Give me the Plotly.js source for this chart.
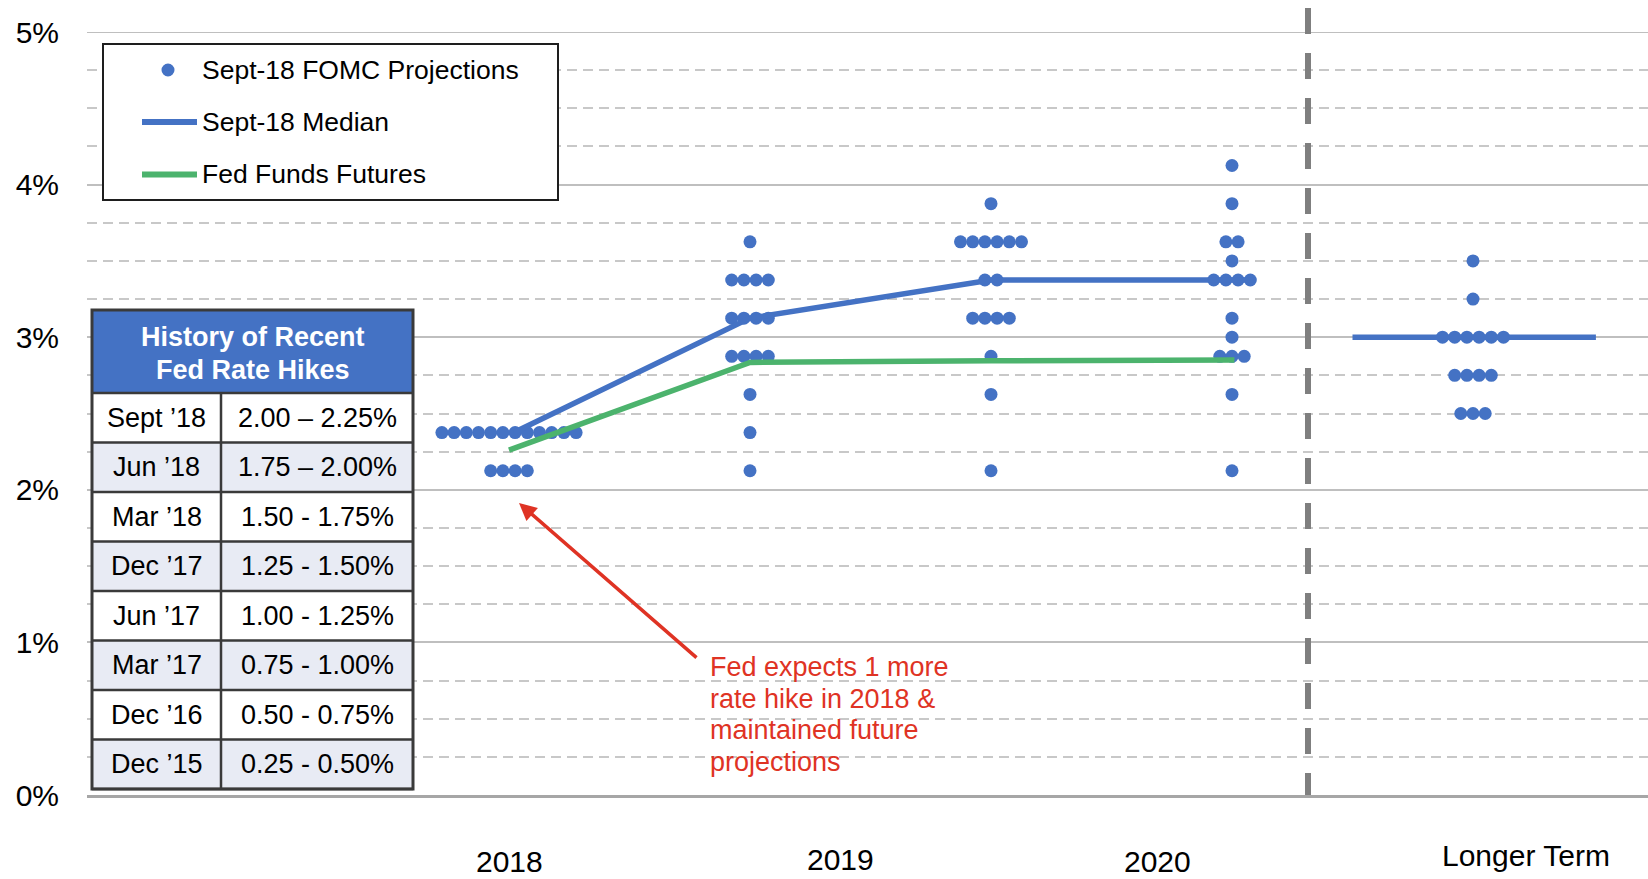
<!DOCTYPE html>
<html><head><meta charset="utf-8">
<script src="https://cdn.plot.ly/plotly-3.0.1.min.js"></script>
<style>html,body{margin:0;padding:0;background:#fff;} #chart{width:1648px;height:879px;}</style>
</head><body><div id="chart"></div>
<script>
// ---------- Data ----------
const projectionYears = ['2018', '2019', '2020', '2021', 'Longer Term'];
const dotLevels2018 = [2.375, 2.125];
const dotCounts2018 = [12, 4];
const dotLevels2019 = [3.625, 3.375, 3.125, 2.875, 2.625, 2.375, 2.125];
const dotCounts2019 = [1, 4, 4, 4, 1, 1, 1];
const dotLevels2020 = [3.875, 3.625, 3.375, 3.125, 2.875, 2.625, 2.125];
const dotCounts2020 = [1, 6, 2, 4, 1, 1, 1];
const dotLevels2021 = [4.125, 3.875, 3.625, 3.5, 3.375, 3.125, 3.0, 2.875, 2.625, 2.125];
const dotCounts2021 = [1, 1, 2, 1, 4, 1, 1, 3, 1, 1];
const dotLevelsLonger = [3.5, 3.25, 3.0, 2.75, 2.5];
const dotCountsLonger = [1, 1, 6, 4, 3];
const medianRates = [2.375, 3.125, 3.375, 3.375];
const medianLonger = [3.0, 3.0];
const futuresRates = [2.26, 2.835, 2.845, 2.85];
const xTickLabels = ['2018', '2019', '2020', 'Longer Term'];
const yTickValues = [0, 1, 2, 3, 4, 5];
const yTickLabels = ['0%', '1%', '2%', '3%', '4%', '5%'];
const legendLabels = ['Sept-18 FOMC Projections', 'Sept-18 Median', 'Fed Funds Futures'];
const tableTitle = ['History of Recent', 'Fed Rate Hikes'];
const hikeDates = ['Sept ’18', 'Jun ’18', 'Mar ’18', 'Dec ’17', 'Jun ’17', 'Mar ’17', 'Dec ’16', 'Dec ’15'];
const hikeRanges = ['2.00 – 2.25%', '1.75 – 2.00%', '1.50 - 1.75%', '1.25 - 1.50%', '1.00 - 1.25%', '0.75 - 1.00%', '0.50 - 0.75%', '0.25 - 0.50%'];
const noteLines = ['Fed expects 1 more', 'rate hike in 2018 &', 'maintained future', 'projections'];

// ---------- Geometry / style ----------
const W = 1648, H = 879;
const L = 87, T = 32, B = 795;          // plot area in pixels
const X0PX = 509, UNIT = 241;           // pixel of first cluster, pixels per cluster
const FONT = 'Liberation Sans, Arial, Helvetica, sans-serif';
const BLUE = '#4472C4', GREEN = '#4CB36D', RED = '#DF3324';
const PX = X => (X - L) / (W - L);
const PY = Y => (B - Y) / (B - T);
const DX = X => (X - X0PX) / UNIT;       // pixel -> x data
const DY = Y => (B - Y) / ((B - T) / 5); // pixel -> y data
const dotStep = 12.2 / UNIT;

const dotSets = [
  [dotLevels2018, dotCounts2018],
  [dotLevels2019, dotCounts2019],
  [dotLevels2020, dotCounts2020],
  [dotLevels2021, dotCounts2021],
  [dotLevelsLonger, dotCountsLonger]
];
const dotX = [], dotY = [];
dotSets.forEach(([lv, ct], k) => {
  lv.forEach((v, j) => {
    const n = ct[j];
    for (let i = 0; i < n; i++) {
      dotX.push(k + (i - (n - 1) / 2) * dotStep);
      dotY.push(v);
    }
  });
});

const medianX = [0.02, 1, 2, 3.09];
const futuresX = [0, 1, 2, 3.01];
const longerX = [3.5, 4.51];

const traces = [
  {type: 'scatter', mode: 'markers', x: dotX, y: dotY, name: legendLabels[0],
   marker: {size: 13, color: BLUE, line: {width: 0}}, hoverinfo: 'y', showlegend: false},
  {type: 'scatter', mode: 'lines', x: medianX, y: medianRates, name: legendLabels[1],
   line: {color: BLUE, width: 5.5}, showlegend: false},
  {type: 'scatter', mode: 'lines', x: longerX, y: medianLonger, name: legendLabels[1],
   line: {color: BLUE, width: 5.5}, showlegend: false},
  {type: 'scatter', mode: 'lines', x: futuresX, y: futuresRates, name: legendLabels[2],
   line: {color: GREEN, width: 5.5}, showlegend: false}
];

const shapes = [];
const annotations = [];

// top (5%) solid gridline that sits on the plot edge
shapes.push({type: 'line', xref: 'paper', yref: 'y', x0: 0, x1: 1, y0: yTickValues[5], y1: yTickValues[5],
  layer: 'below', line: {color: '#BFBFBF', width: 2}});

// vertical dashed separator
shapes.push({type: 'line', xref: 'x', yref: 'paper', x0: DX(1308), x1: DX(1308), y0: PY(8), y1: 0,
  line: {color: '#7F7F7F', width: 6, dash: '26px,19px'}});

// ---- legend box ----
shapes.push({type: 'rect', xref: 'paper', yref: 'paper', x0: PX(103), x1: PX(558), y0: PY(44), y1: PY(200),
  fillcolor: '#FFFFFF', line: {color: '#1E1E1E', width: 2}});
shapes.push({type: 'circle', xref: 'paper', yref: 'paper', x0: PX(161.5), x1: PX(174.5), y0: PY(63.5), y1: PY(76.5),
  fillcolor: BLUE, line: {width: 0}});
shapes.push({type: 'line', xref: 'paper', yref: 'paper', x0: PX(142), x1: PX(197), y0: PY(122), y1: PY(122),
  line: {color: BLUE, width: 6}});
shapes.push({type: 'line', xref: 'paper', yref: 'paper', x0: PX(142), x1: PX(197), y0: PY(174.5), y1: PY(174.5),
  line: {color: GREEN, width: 6}});
[70, 122, 174.5].forEach((yy, i) => {
  annotations.push({xref: 'paper', yref: 'paper', x: PX(200), y: PY(yy), xanchor: 'left', yanchor: 'middle',
    text: legendLabels[i], showarrow: false, font: {family: FONT, size: 26.5, color: '#000'}});
});

// ---- history table ----
const tL = 92, tR = 413, tDiv = 221, tTop = 310, tHead = 393, rowH = 49.5;
shapes.push({type: 'rect', xref: 'paper', yref: 'paper', x0: PX(tL), x1: PX(tR), y0: PY(tTop), y1: PY(tHead),
  fillcolor: BLUE, line: {width: 0}});
hikeDates.forEach((d, i) => {
  const y0 = tHead + i * rowH, y1 = y0 + rowH;
  shapes.push({type: 'rect', xref: 'paper', yref: 'paper', x0: PX(tL), x1: PX(tR), y0: PY(y0), y1: PY(y1),
    fillcolor: i % 2 === 0 ? '#FFFFFF' : '#E8EBF4', line: {width: 0}});
  annotations.push({xref: 'paper', yref: 'paper', x: PX((tL + tDiv) / 2), y: PY((y0 + y1) / 2),
    xanchor: 'center', yanchor: 'middle', text: d, showarrow: false,
    font: {family: FONT, size: 27, color: '#000'}});
  annotations.push({xref: 'paper', yref: 'paper', x: PX((tDiv + tR) / 2), y: PY((y0 + y1) / 2),
    xanchor: 'center', yanchor: 'middle', text: hikeRanges[i], showarrow: false,
    font: {family: FONT, size: 27, color: '#000'}});
});
const tBot = tHead + hikeDates.length * rowH;
for (let i = 0; i <= hikeDates.length; i++) {
  const yy = tHead + i * rowH;
  shapes.push({type: 'line', xref: 'paper', yref: 'paper', x0: PX(tL), x1: PX(tR), y0: PY(yy), y1: PY(yy),
    line: {color: '#3A3A3A', width: 2.5}});
}
shapes.push({type: 'line', xref: 'paper', yref: 'paper', x0: PX(tDiv), x1: PX(tDiv), y0: PY(tHead), y1: PY(tBot),
  line: {color: '#3A3A3A', width: 2.5}});
shapes.push({type: 'rect', xref: 'paper', yref: 'paper', x0: PX(tL), x1: PX(tR), y0: PY(tTop), y1: PY(tBot),
  line: {color: '#3A3A3A', width: 3}});
[337, 370].forEach((yy, i) => {
  annotations.push({xref: 'paper', yref: 'paper', x: PX((tL + tR) / 2), y: PY(yy), xanchor: 'center', yanchor: 'middle',
    text: '<b>' + tableTitle[i] + '</b>', showarrow: false,
    font: {family: FONT, size: 27, color: '#FFFFFF'}});
});

// ---- red note + arrow ----
[667, 699, 730, 762].forEach((yy, i) => {
  annotations.push({xref: 'paper', yref: 'paper', x: PX(708), y: PY(yy), xanchor: 'left', yanchor: 'middle', align: 'left',
    text: noteLines[i], showarrow: false, font: {family: FONT, size: 27, color: RED}});
});
annotations.push({xref: 'x', yref: 'y', x: DX(519), y: DY(503), text: '', showarrow: true,
  ax: 179, ay: 156, arrowhead: 2, arrowsize: 1, arrowwidth: 3.5, arrowcolor: RED, standoff: 0});

// ---- x category labels ----
const xLabelPx = [[509, 861], [840, 859], [1157, 861], [1526, 855]];
xTickLabels.forEach((t, i) => {
  annotations.push({xref: 'x', yref: 'paper', x: DX(xLabelPx[i][0]), y: PY(xLabelPx[i][1]),
    xanchor: 'center', yanchor: 'middle', text: t, showarrow: false,
    font: {family: FONT, size: 30, color: '#000'}});
});

const layout = {
  width: W, height: H,
  margin: {l: L, r: 0, t: T, b: H - B, pad: 0},
  paper_bgcolor: '#FFFFFF', plot_bgcolor: '#FFFFFF',
  font: {family: FONT, color: '#000'},
  showlegend: false,
  xaxis: {range: [DX(L), DX(W)], showgrid: false, zeroline: false, showticklabels: false,
    showline: true, linecolor: '#A6A6A6', linewidth: 2.5, ticks: '', fixedrange: true, automargin: false},
  yaxis: {range: [0, 5], tickmode: 'array', tickvals: yTickValues, ticktext: yTickLabels,
    tickfont: {family: FONT, size: 30, color: '#000'}, ticks: '', ticklabelstandoff: 27,
    showgrid: true, gridcolor: '#BFBFBF', gridwidth: 2, zeroline: false, showline: false,
    minor: {tickmode: 'linear', tick0: 0, dtick: 0.25, showgrid: true, gridcolor: '#C8C8C8', gridwidth: 2,
      griddash: '10px,6px', ticks: ''},
    fixedrange: true, automargin: false},
  shapes: shapes,
  annotations: annotations
};

Plotly.newPlot('chart', traces, layout, {displayModeBar: false, staticPlot: true});
</script>
</body></html>
